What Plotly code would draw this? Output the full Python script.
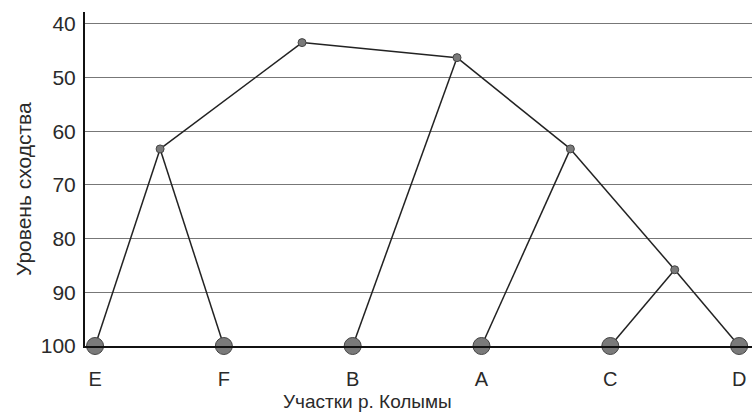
import plotly.graph_objects as go

# Leaves (sites on the Kolyma river) along the x axis
leaves = ["E", "F", "B", "A", "C", "D"]
leaf_x = [0, 1, 2, 3, 4, 5]
leaf_level = [100, 100, 100, 100, 100, 100]

# Internal cluster nodes: position and similarity level
node_names = ["EF", "TOP", "BA", "AC", "CD"]
node_x = [0.505, 1.607, 2.81, 3.69, 4.5]
node_level = [63.3, 43.5, 46.3, 63.3, 85.8]

# Links between nodes (parent -> child)
links = [
    ("EF", "E"), ("EF", "F"),
    ("TOP", "EF"), ("TOP", "BA"),
    ("BA", "B"), ("BA", "AC"),
    ("AC", "A"), ("AC", "CD"),
    ("CD", "C"), ("CD", "D"),
]

y_ticks = [40, 50, 60, 70, 80, 90, 100]

pos = {n: (x, y) for n, x, y in zip(leaves, leaf_x, leaf_level)}
pos.update({n: (x, y) for n, x, y in zip(node_names, node_x, node_level)})

lx, ly = [], []
for a, b in links:
    lx += [pos[a][0], pos[b][0], None]
    ly += [pos[a][1], pos[b][1], None]

fig = go.Figure()
fig.add_trace(go.Scatter(x=lx, y=ly, mode="lines",
                         line=dict(color="#222222", width=1.5),
                         hoverinfo="skip", cliponaxis=False))
fig.add_trace(go.Scatter(x=node_x, y=node_level, mode="markers",
                         marker=dict(size=8, color="#7a7a7a",
                                     line=dict(color="#444444", width=1)),
                         cliponaxis=False))
fig.add_trace(go.Scatter(x=leaf_x, y=leaf_level, mode="markers",
                         marker=dict(size=17, color="#7a7a7a",
                                     line=dict(color="#444444", width=1)),
                         cliponaxis=False))

font_family = "Liberation Sans, Arial, sans-serif"
fig.update_layout(
    width=752, height=414,
    margin=dict(l=85, r=0, t=12, b=68),
    paper_bgcolor="white", plot_bgcolor="white",
    showlegend=False,
    font=dict(family=font_family, color="#2a2a2a", size=16),
    xaxis=dict(
        range=[-0.078, 5.10],
        tickmode="array", tickvals=leaf_x, ticktext=leaves,
        showgrid=False, zeroline=False,
        showline=True, linecolor="#111111", linewidth=2,
        ticks="", ticklabelstandoff=14,
        tickfont=dict(size=20),
    ),
    yaxis=dict(
        range=[100, 37.8],
        tickmode="array", tickvals=y_ticks,
        showgrid=True, gridcolor="#777777", gridwidth=1,
        zeroline=False,
        showline=True, linecolor="#111111", linewidth=2,
        ticks="", ticklabelstandoff=3,
        tickfont=dict(size=21),
    ),
    annotations=[
        dict(text="Участки р. Колымы", xref="paper", yref="paper",
             x=0.4228, y=-0.1647, xanchor="center", yanchor="middle",
             showarrow=False, font=dict(size=19)),
        dict(text="Уровень сходства", xref="paper", yref="paper",
             x=-0.093, y=0.47, xanchor="center", yanchor="middle",
             textangle=-90, showarrow=False, font=dict(size=21)),
    ],
)

fig.write_html("out.html")
